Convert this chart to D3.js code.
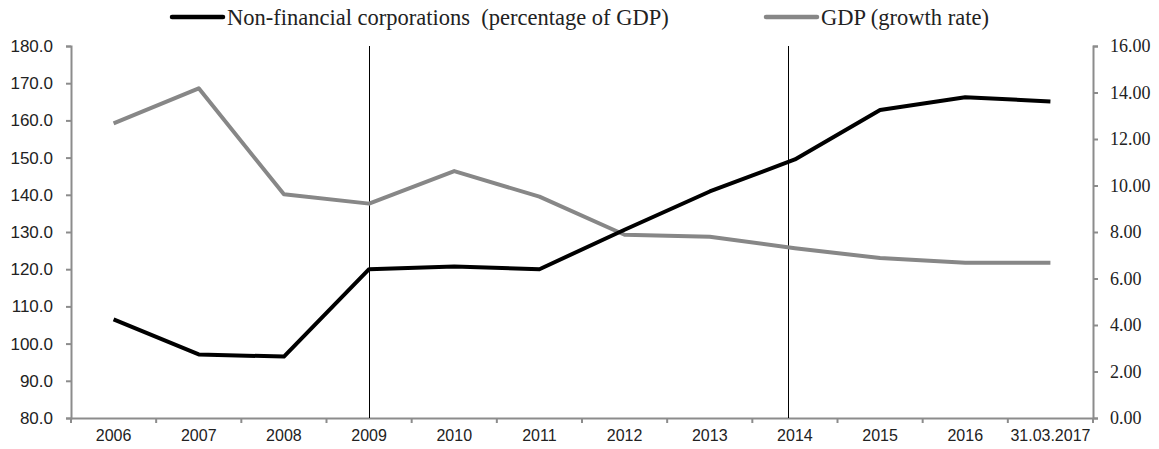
<!DOCTYPE html>
<html>
<head>
<meta charset="utf-8">
<script src="https://cdn.jsdelivr.net/npm/d3@7"></script>
<style>
  html, body { margin: 0; padding: 0; background: #fff; }
  svg { display: block; }
</style>
</head>
<body>
<svg id="chart" width="1159" height="449"></svg>
<script>
// Categories on the x axis
const categories = ["2006", "2007", "2008", "2009", "2010", "2011", "2012", "2013", "2014", "2015", "2016", "31.03.2017"];

// Debt of non-financial corporations, % of GDP (left axis)
const corporateDebt = [106.5, 97.1, 96.5, 120.0, 120.7, 120.0, 130.6, 140.9, 149.5, 162.8, 166.2, 165.1];

// GDP growth rate (right axis)
const gdpGrowth = [12.67, 14.18, 9.62, 9.22, 10.62, 9.52, 7.88, 7.80, 7.30, 6.88, 6.68, 6.68];

// Tick values for both value axes
const leftTicks = [80, 90, 100, 110, 120, 130, 140, 150, 160, 170, 180];
const rightTicks = [0, 2, 4, 6, 8, 10, 12, 14, 16];

// Vertical reference lines (category, shift in bands)
const markerCats = ["2009", "2014"];
const markerShift = [0, -0.08];

// Legend entries
const legendLabels = ["Non-financial corporations  (percentage of GDP)", "GDP (growth rate)"];

const W = 1159, H = 449;
const margin = { top: 46, right: 66, bottom: 31, left: 71 };
const svg = d3.select("#chart");

const x = d3.scaleBand().domain(categories).range([margin.left, W - margin.right]).paddingInner(0).paddingOuter(0);
const yL = d3.scaleLinear().domain([80, 180]).range([H - margin.bottom, margin.top]);
const yR = d3.scaleLinear().domain([0, 16]).range([H - margin.bottom, margin.top]);
const cx = c => x(c) + x.bandwidth() / 2;

const axisColor = "#8c8c8c";

// Left axis
const gL = svg.append("g")
  .attr("transform", `translate(${margin.left},0)`)
  .call(d3.axisLeft(yL).tickValues(leftTicks).tickFormat(d3.format(".1f")).tickSize(5).tickSizeOuter(5).tickPadding(13));
gL.selectAll("text").attr("font-family", "Liberation Sans, Arial, sans-serif").attr("font-size", 17).attr("fill", "#222");

// Right axis
const gR = svg.append("g")
  .attr("transform", `translate(${W - margin.right},0)`)
  .call(d3.axisRight(yR).tickValues(rightTicks).tickFormat(d3.format(".2f")).tickSize(5).tickSizeOuter(5).tickPadding(12));
gR.selectAll("text").attr("font-family", "Liberation Serif, Times New Roman, serif").attr("font-size", 18).attr("fill", "#222");

// Bottom axis with ticks on band boundaries
const gX = svg.append("g")
  .attr("transform", `translate(0,${H - margin.bottom})`)
  .call(d3.axisBottom(x).tickSize(0).tickSizeOuter(0).tickPadding(12));
gX.selectAll("text").attr("font-family", "Liberation Sans, Arial, sans-serif").attr("font-size", 16).attr("fill", "#222");
gX.selectAll(".boundary")
  .data(categories.concat(["__end"]))
  .join("line")
  .attr("class", "boundary")
  .attr("x1", (d, i) => i < categories.length ? x(d) : x(categories[categories.length - 1]) + x.bandwidth())
  .attr("x2", (d, i) => i < categories.length ? x(d) : x(categories[categories.length - 1]) + x.bandwidth())
  .attr("y1", 0).attr("y2", 5)
  .attr("stroke", axisColor).attr("stroke-width", 2);

[gL, gR, gX].forEach(g => {
  g.select(".domain").attr("stroke", axisColor).attr("stroke-width", 2);
  g.selectAll(".tick line").attr("stroke", axisColor).attr("stroke-width", 2);
});

// Vertical reference lines
const markerX = (d, i) => Math.round(cx(d) + markerShift[i] * x.bandwidth()) + 0.5;
svg.append("g").selectAll("line")
  .data(markerCats)
  .join("line")
  .attr("x1", markerX)
  .attr("x2", markerX)
  .attr("y1", yL(180)).attr("y2", yL(80))
  .attr("stroke", "#000").attr("stroke-width", 1);

// Series lines
const lineL = d3.line().x((d, i) => cx(categories[i])).y(d => yL(d));
const lineR = d3.line().x((d, i) => cx(categories[i])).y(d => yR(d));

svg.append("path").datum(gdpGrowth)
  .attr("d", lineR).attr("fill", "none")
  .attr("stroke", "#878787").attr("stroke-width", 4).attr("stroke-linejoin", "round");

svg.append("path").datum(corporateDebt)
  .attr("d", lineL).attr("fill", "none")
  .attr("stroke", "#000").attr("stroke-width", 4).attr("stroke-linejoin", "round");

// Legend
const legendColors = ["#000", "#878787"];
const legendX = [172, 766];
const lg = svg.append("g").selectAll("g").data(legendLabels).join("g")
  .attr("transform", (d, i) => `translate(${legendX[i]},17)`);
lg.append("line").attr("x1", 0).attr("x2", 51).attr("y1", 0).attr("y2", 0)
  .attr("stroke", (d, i) => legendColors[i]).attr("stroke-width", 4.5).attr("stroke-linecap", "round");
lg.append("text").attr("x", 55).attr("y", 8)
  .attr("font-family", "Liberation Serif, Times New Roman, serif").attr("font-size", 22.5).attr("fill", "#222")
  .attr("xml:space", "preserve").style("white-space", "pre")
  .text(d => d);
</script>
</body>
</html>
